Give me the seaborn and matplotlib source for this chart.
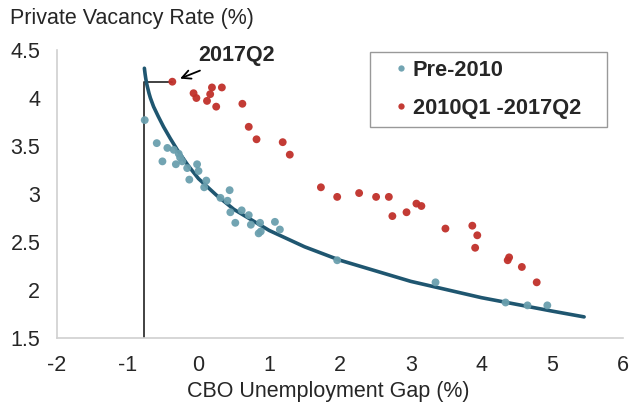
import numpy as np
import pandas as pd
import seaborn as sns
import matplotlib.pyplot as plt

# pre-2010 quarters: unemployment gap vs private vacancy rate
pre_gap = [-0.76, -0.59, -0.51, -0.44, -0.35, -0.28, -0.26, -0.32, -0.23, -0.16,
           -0.02, 0.00, -0.13, 0.11, 0.08, 0.44, 0.31, 0.41, 0.45, 0.52,
           0.61, 0.71, 0.74, 0.87, 0.85, 0.88, 1.08, 1.15, 1.96, 3.35,
           4.34, 4.65, 4.93]
pre_vac = [3.77, 3.53, 3.34, 3.48, 3.46, 3.42, 3.38, 3.31, 3.34, 3.27,
           3.31, 3.24, 3.15, 3.14, 3.07, 3.04, 2.96, 2.93, 2.81, 2.70,
           2.83, 2.78, 2.68, 2.70, 2.59, 2.61, 2.71, 2.63, 2.31, 2.08,
           1.87, 1.84, 1.84]

# 2010Q1 - 2017Q2 (last entry is 2017Q2)
post_gap = [4.78, 4.57, 4.37, 4.39, 3.91, 3.94, 3.87, 3.49, 3.15, 3.08,
            2.94, 2.74, 2.69, 2.51, 2.27, 1.96, 1.73, 1.29, 1.19, 0.82,
            0.71, 0.62, 0.25, 0.12, 0.33, 0.165, 0.19, -0.03, -0.07, -0.37]
post_vac = [2.08, 2.24, 2.31, 2.34, 2.44, 2.57, 2.67, 2.64, 2.875, 2.90,
            2.81, 2.77, 2.97, 2.97, 3.01, 2.97, 3.07, 3.41, 3.54, 3.57,
            3.70, 3.94, 3.91, 3.97, 4.11, 4.04, 4.11, 4.00, 4.05, 4.17]

# fitted curve
curve_gap = [-0.765, -0.755, -0.745, -0.73, -0.70, -0.68, -0.635, -0.57, -0.494, -0.4,
             -0.3, -0.15, 0.0, 0.25, 0.5, 1.0, 1.5, 2.0, 3.0, 4.0, 5.0, 5.45]
curve_vac = [4.31, 4.25, 4.20, 4.14, 4.05, 4.00, 3.91, 3.81, 3.70, 3.58,
             3.46, 3.30, 3.16, 2.99, 2.84, 2.62, 2.45, 2.31, 2.09, 1.92, 1.78, 1.72]

labels = ["Pre-2010", "2010Q1 -2017Q2"]
colors = ["#6a9fae", "#c0302a"]

df = pd.DataFrame({
    "gap": pre_gap + post_gap,
    "vac": pre_vac + post_vac,
    "period": [labels[0]] * len(pre_gap) + [labels[1]] * len(post_gap),
})

sns.set_style("white")
plt.rcParams["font.family"] = ["Liberation Sans", "DejaVu Sans"]
plt.rcParams["axes.unicode_minus"] = False

fig = plt.figure(figsize=(6.32, 4.11), dpi=100)
ax = fig.add_axes([0.0902, 0.1776, 0.8956, 0.7007])

# guide lines at the minimum gap and the latest vacancy rate
gap_min = curve_gap[0]
ax.plot([gap_min, gap_min, post_gap[-1]], [1.5, post_vac[-1], post_vac[-1]],
        color="#333333", lw=1.3, zorder=1)

sns.scatterplot(data=df, x="gap", y="vac", hue="period", palette=colors,
                s=32, edgecolor="none", alpha=0.95, ax=ax, zorder=3)
sns.lineplot(x=curve_gap, y=curve_vac, sort=False, color="#1f5670", lw=2.6,
             ax=ax, zorder=2)

ax.annotate("2017Q2", xy=(post_gap[-1], post_vac[-1]), xytext=(0.0, 4.44),
            fontsize=15.5, fontweight="bold", va="center", ha="left",
            arrowprops=dict(arrowstyle="->", color="black", lw=1.3,
                            shrinkA=2, shrinkB=6))

ax.set_xlim(-2, 6)
ax.set_ylim(1.5, 4.5)
ax.set_xticks(range(-2, 7))
ax.set_yticks([1.5, 2, 2.5, 3, 3.5, 4, 4.5])
ax.set_yticklabels(["1.5", "2", "2.5", "3", "3.5", "4", "4.5"])
ax.tick_params(axis="both", labelsize=15.5, length=5, color="#b0b0b0",
               direction="out", pad=7)
for side in ["top", "right"]:
    ax.spines[side].set_visible(False)
for side in ["left", "bottom"]:
    ax.spines[side].set_color("#d0d0d0")
    ax.spines[side].set_linewidth(1.2)

ax.set_xlabel("CBO Unemployment Gap (%)", fontsize=15.5)
ax.xaxis.set_label_coords(0.479, -0.15)
ax.set_ylabel("")
fig.text(0.016, 0.955, "Private Vacancy Rate (%)", fontsize=15.5, va="center", ha="left")

leg = ax.legend(loc="upper left", bbox_to_anchor=(0.553, 0.74, 0.419, 0.253),
                mode="expand", fancybox=False,
                edgecolor="#999999", framealpha=1, markerscale=0.8,
                prop={"weight": "bold", "size": 15.7}, handlelength=2.1,
                handletextpad=-0.5, borderpad=0.37, labelspacing=0.78,
                borderaxespad=0)
leg.get_frame().set_linewidth(1.0)

fig.savefig("out.png", dpi=100)
